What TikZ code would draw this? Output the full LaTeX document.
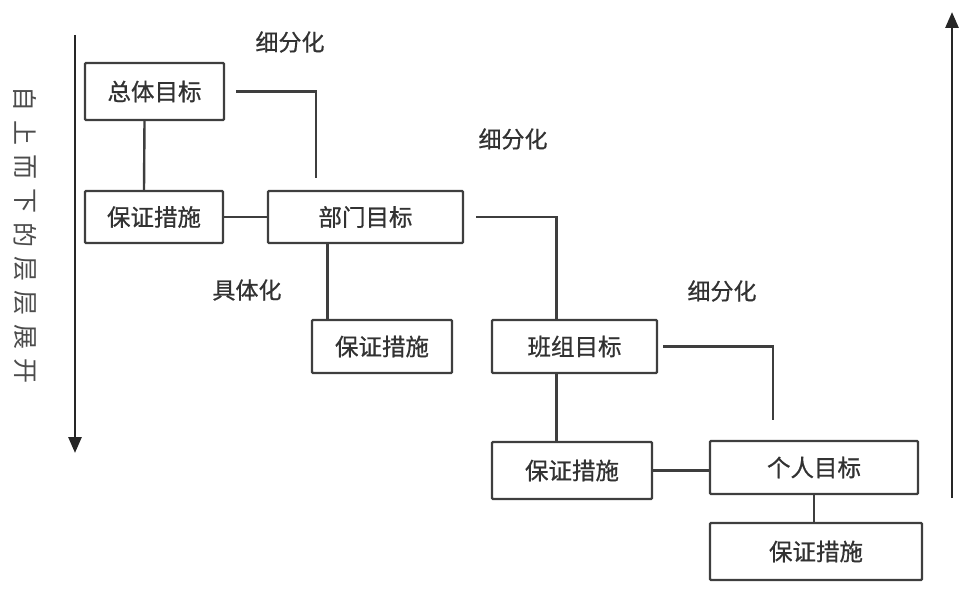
\documentclass[tikz,border=0pt]{standalone}
\usepackage{fontspec}
\newfontfamily\cjk{Noto Sans CJK SC}
\newfontfamily\cjkb[FakeBold=0.7]{Noto Sans CJK SC}
\usetikzlibrary{%
	calc,%
	arrows.meta,%
	positioning,%
}
\tikzset{
	>=Triangle,
	nodes={align=center},
}
\definecolor{cline}{RGB}{62, 62, 62}
\definecolor{ctext}{RGB}{50, 50, 50}

\begin{document}
\begin{tikzpicture}[x=1pt, y=-1pt,%
		goal/.style={draw=cline, rectangle, line width=2.4pt, rounded corners=1pt, inner sep=0pt, font=\cjkb\fontsize{23.5}{23.5}\selectfont, text=ctext},%
		link/.style={draw=cline, line width=2.4pt},%
		lbl/.style={font=\cjkb\fontsize{23}{23}\selectfont, text=ctext},%
		axis/.style={draw=black!85, line width=2.8pt, -{Triangle[length=16pt, width=13pt]}}]
	\useasboundingbox (0,0) rectangle (965,607);

	\node[goal, minimum width=139pt, minimum height=57pt] (total) at (154.5,91.5) {总体目标};
	\node[goal, minimum width=138pt, minimum height=52pt] (meas1) at (154,217) {保证措施};
	\node[goal, minimum width=195pt, minimum height=52pt] (dept) at (365.5,217) {部门目标};
	\node[goal, minimum width=140pt, minimum height=53pt] (meas2) at (382,346.5) {保证措施};
	\node[goal, minimum width=165pt, minimum height=53pt] (team) at (574.5,346.5) {班组目标};
	\node[goal, minimum width=160pt, minimum height=57pt] (meas3) at (572,470.5) {保证措施};
	\node[goal, minimum width=208pt, minimum height=53pt] (person) at (814,467.5) {个人目标};
	\node[goal, minimum width=212pt, minimum height=57pt] (meas4) at (816,551.5) {保证措施};

	\node[lbl] (split1) at (290,42) {细分化};
	\node[lbl] (split2) at (513,139) {细分化};
	\node[lbl] (concr) at (247,290) {具体化};
	\node[lbl] (split3) at (722,291) {细分化};

	\coordinate (end1) at (316,178);
	\coordinate (end3) at (773,420);
	\draw[link, shorten <=11pt] (total.east) -| (end1);
	\draw[link] ([xshift=-10pt]total.south) -- ([xshift=-10pt]meas1.north);
	\draw[link] (meas1.east) -- (meas1.east -| dept.west);
	\draw[link] ([xshift=-38pt]dept.south) -- ([xshift=-38pt]dept.south |- meas2.north);
	\draw[link, shorten <=12pt] (dept.east) -| ([xshift=-18pt]team.north);
	\draw[link] ([xshift=-18pt]team.south) -- ([xshift=-18pt]team.south |- meas3.north);
	\draw[link, shorten <=5pt] (team.east) -| (end3);
	\draw[link] (meas3.east) -- (meas3.east -| person.west);
	\draw[link] (person.south) -- (person.south |- meas4.north);

	% top-down / bottom-up axes
	\coordinate (ltop) at (75,35);
	\coordinate (lbot) at (75,453);
	\coordinate (rbot) at (952,498);
	\coordinate (rtop) at (952,12);
	\draw[axis] (ltop) -- (lbot);
	\draw[axis] (rbot) -- (rtop);

	\foreach \ch [count=\i] in {自,上,而,下,的,层,层,展,开}
		\node[rotate=-90, inner sep=0pt, font=\cjk\fontsize{25}{25}\selectfont, text=black!70] (v\i) at (25,{99.5+33.9*(\i-1)}) {\ch};
\end{tikzpicture}
\end{document}
